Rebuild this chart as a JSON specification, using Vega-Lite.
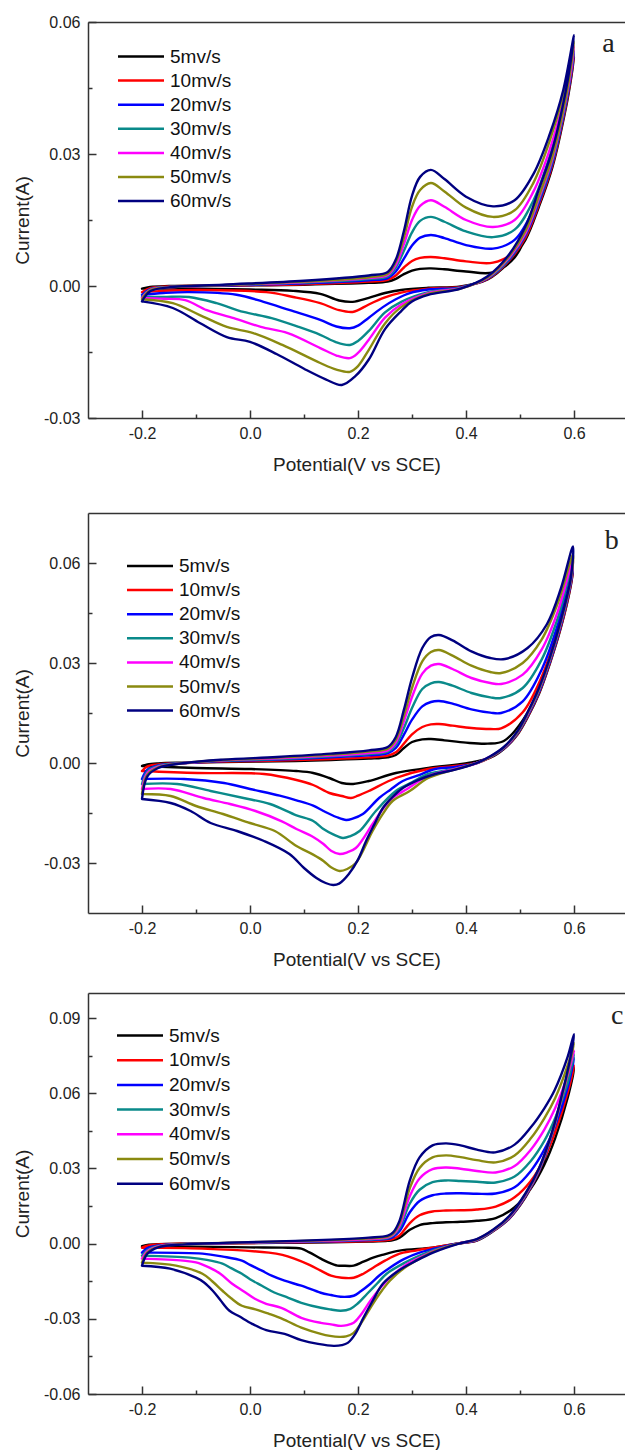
{
"$schema":"https://vega.github.io/schema/vega-lite/v6.json",
"background":"white",
"padding":{"left":13,"top":14,"right":0,"bottom":0},
"config":{
 "font":"Liberation Sans",
 "view":{"stroke":null},
 "axis":{"labelFont":"Liberation Sans","labelFontSize":16,"labelColor":"#222","titleFont":"Liberation Sans","titleFontSize":19,"titleFontWeight":"normal","titleColor":"#222","domainColor":"#333","domainWidth":1.5,"tickColor":"#333","tickWidth":1.5,"grid":false,"labelFlush":false},
 "legend":{"labelFont":"Liberation Sans","labelFontSize":19,"labelColor":"#111","symbolStrokeWidth":2.5,"symbolSize":100,"symbolType":"M-4.6,0H4.6","labelOffset":19.5,"symbolOffset":0,"padding":0,"direction":"vertical"}
},
"resolve":{"scale":{"color":"independent"},"legend":{"color":"independent"}},
"datasets":{
"a":[
{"s":"5mv/s","x":-0.2,"y":-0.0006},{"s":"5mv/s","x":-0.185,"y":-0.0002},{"s":"5mv/s","x":-0.15,"y":0},{"s":"5mv/s","x":-0.05,"y":0.0001},{"s":"5mv/s","x":0.1,"y":0.0003},{"s":"5mv/s","x":0.22,"y":0.0007},{"s":"5mv/s","x":0.255,"y":0.001},{"s":"5mv/s","x":0.27,"y":0.0016},{"s":"5mv/s","x":0.285,"y":0.0027},{"s":"5mv/s","x":0.3,"y":0.0035},{"s":"5mv/s","x":0.315,"y":0.0039},{"s":"5mv/s","x":0.335,"y":0.004},{"s":"5mv/s","x":0.36,"y":0.0038},{"s":"5mv/s","x":0.4,"y":0.0033},{"s":"5mv/s","x":0.45,"y":0.0031},{"s":"5mv/s","x":0.49,"y":0.0065},{"s":"5mv/s","x":0.525,"y":0.0155},{"s":"5mv/s","x":0.555,"y":0.026},{"s":"5mv/s","x":0.58,"y":0.038},{"s":"5mv/s","x":0.6,"y":0.052},
{"s":"5mv/s","x":0.595,"y":0.0475},{"s":"5mv/s","x":0.585,"y":0.0405},{"s":"5mv/s","x":0.56,"y":0.027},{"s":"5mv/s","x":0.535,"y":0.018},{"s":"5mv/s","x":0.51,"y":0.0105},{"s":"5mv/s","x":0.48,"y":0.0055},{"s":"5mv/s","x":0.44,"y":0.0015},{"s":"5mv/s","x":0.39,"y":-0.0001},{"s":"5mv/s","x":0.33,"y":-0.0004},{"s":"5mv/s","x":0.28,"y":-0.0009},{"s":"5mv/s","x":0.25,"y":-0.0016},{"s":"5mv/s","x":0.22,"y":-0.0027},{"s":"5mv/s","x":0.19,"y":-0.0036},{"s":"5mv/s","x":0.165,"y":-0.0033},{"s":"5mv/s","x":0.13,"y":-0.0018},{"s":"5mv/s","x":0.08,"y":-0.0011},{"s":"5mv/s","x":0,"y":-0.0008},{"s":"5mv/s","x":-0.1,"y":-0.0006},{"s":"5mv/s","x":-0.2,"y":-0.0006},
{"s":"10mv/s","x":-0.2,"y":-0.0014},{"s":"10mv/s","x":-0.185,"y":-0.0005},{"s":"10mv/s","x":-0.15,"y":-0.0001},{"s":"10mv/s","x":-0.05,"y":0.0001},{"s":"10mv/s","x":0.1,"y":0.0004},{"s":"10mv/s","x":0.22,"y":0.001},{"s":"10mv/s","x":0.255,"y":0.0014},{"s":"10mv/s","x":0.27,"y":0.0024},{"s":"10mv/s","x":0.285,"y":0.0042},{"s":"10mv/s","x":0.3,"y":0.0057},{"s":"10mv/s","x":0.315,"y":0.0064},{"s":"10mv/s","x":0.335,"y":0.0066},{"s":"10mv/s","x":0.36,"y":0.0063},{"s":"10mv/s","x":0.4,"y":0.0056},{"s":"10mv/s","x":0.45,"y":0.0053},{"s":"10mv/s","x":0.49,"y":0.0078},{"s":"10mv/s","x":0.525,"y":0.016},{"s":"10mv/s","x":0.555,"y":0.0265},{"s":"10mv/s","x":0.58,"y":0.0385},{"s":"10mv/s","x":0.6,"y":0.0525},
{"s":"10mv/s","x":0.595,"y":0.048},{"s":"10mv/s","x":0.585,"y":0.041},{"s":"10mv/s","x":0.56,"y":0.0275},{"s":"10mv/s","x":0.535,"y":0.0185},{"s":"10mv/s","x":0.51,"y":0.011},{"s":"10mv/s","x":0.48,"y":0.0058},{"s":"10mv/s","x":0.44,"y":0.0016},{"s":"10mv/s","x":0.39,"y":-0.0002},{"s":"10mv/s","x":0.33,"y":-0.0006},{"s":"10mv/s","x":0.28,"y":-0.0015},{"s":"10mv/s","x":0.25,"y":-0.0026},{"s":"10mv/s","x":0.22,"y":-0.0042},{"s":"10mv/s","x":0.2,"y":-0.0055},{"s":"10mv/s","x":0.19,"y":-0.0059},{"s":"10mv/s","x":0.165,"y":-0.0055},{"s":"10mv/s","x":0.13,"y":-0.0039},{"s":"10mv/s","x":0.08,"y":-0.0025},{"s":"10mv/s","x":0.03,"y":-0.0014},{"s":"10mv/s","x":-0.093,"y":-0.0009},{"s":"10mv/s","x":-0.16,"y":-0.0011},{"s":"10mv/s","x":-0.2,"y":-0.0014},
{"s":"20mv/s","x":-0.2,"y":-0.002},{"s":"20mv/s","x":-0.185,"y":-0.0007},{"s":"20mv/s","x":-0.15,"y":-0.0002},{"s":"20mv/s","x":-0.05,"y":0.0001},{"s":"20mv/s","x":0.1,"y":0.0006},{"s":"20mv/s","x":0.22,"y":0.0013},{"s":"20mv/s","x":0.255,"y":0.0018},{"s":"20mv/s","x":0.27,"y":0.0033},{"s":"20mv/s","x":0.285,"y":0.0062},{"s":"20mv/s","x":0.3,"y":0.0092},{"s":"20mv/s","x":0.315,"y":0.011},{"s":"20mv/s","x":0.335,"y":0.0116},{"s":"20mv/s","x":0.36,"y":0.0109},{"s":"20mv/s","x":0.4,"y":0.0093},{"s":"20mv/s","x":0.45,"y":0.0085},{"s":"20mv/s","x":0.49,"y":0.0105},{"s":"20mv/s","x":0.525,"y":0.0175},{"s":"20mv/s","x":0.555,"y":0.0275},{"s":"20mv/s","x":0.58,"y":0.0395},{"s":"20mv/s","x":0.6,"y":0.053},
{"s":"20mv/s","x":0.595,"y":0.0485},{"s":"20mv/s","x":0.585,"y":0.0415},{"s":"20mv/s","x":0.56,"y":0.028},{"s":"20mv/s","x":0.535,"y":0.019},{"s":"20mv/s","x":0.51,"y":0.0115},{"s":"20mv/s","x":0.48,"y":0.006},{"s":"20mv/s","x":0.44,"y":0.0017},{"s":"20mv/s","x":0.39,"y":-0.0003},{"s":"20mv/s","x":0.33,"y":-0.0008},{"s":"20mv/s","x":0.296,"y":-0.0016},{"s":"20mv/s","x":0.27,"y":-0.003},{"s":"20mv/s","x":0.246,"y":-0.0048},{"s":"20mv/s","x":0.22,"y":-0.0072},{"s":"20mv/s","x":0.2,"y":-0.009},{"s":"20mv/s","x":0.185,"y":-0.0096},{"s":"20mv/s","x":0.16,"y":-0.0092},{"s":"20mv/s","x":0.13,"y":-0.0077},{"s":"20mv/s","x":0.074,"y":-0.0055},{"s":"20mv/s","x":0.025,"y":-0.0036},{"s":"20mv/s","x":-0.025,"y":-0.002},{"s":"20mv/s","x":-0.113,"y":-0.0014},{"s":"20mv/s","x":-0.16,"y":-0.0016},{"s":"20mv/s","x":-0.2,"y":-0.002},
{"s":"30mv/s","x":-0.2,"y":-0.0025},{"s":"30mv/s","x":-0.185,"y":-0.0008},{"s":"30mv/s","x":-0.15,"y":-0.0002},{"s":"30mv/s","x":-0.05,"y":0.0002},{"s":"30mv/s","x":0.1,"y":0.0008},{"s":"30mv/s","x":0.22,"y":0.0016},{"s":"30mv/s","x":0.255,"y":0.0022},{"s":"30mv/s","x":0.27,"y":0.0042},{"s":"30mv/s","x":0.285,"y":0.008},{"s":"30mv/s","x":0.3,"y":0.0122},{"s":"30mv/s","x":0.315,"y":0.0148},{"s":"30mv/s","x":0.335,"y":0.0157},{"s":"30mv/s","x":0.36,"y":0.0146},{"s":"30mv/s","x":0.4,"y":0.0124},{"s":"30mv/s","x":0.45,"y":0.0111},{"s":"30mv/s","x":0.49,"y":0.0128},{"s":"30mv/s","x":0.525,"y":0.0195},{"s":"30mv/s","x":0.555,"y":0.0295},{"s":"30mv/s","x":0.58,"y":0.041},{"s":"30mv/s","x":0.6,"y":0.0535},
{"s":"30mv/s","x":0.595,"y":0.049},{"s":"30mv/s","x":0.585,"y":0.042},{"s":"30mv/s","x":0.56,"y":0.0285},{"s":"30mv/s","x":0.535,"y":0.0195},{"s":"30mv/s","x":0.51,"y":0.0118},{"s":"30mv/s","x":0.48,"y":0.0062},{"s":"30mv/s","x":0.44,"y":0.0018},{"s":"30mv/s","x":0.39,"y":-0.0004},{"s":"30mv/s","x":0.33,"y":-0.0014},{"s":"30mv/s","x":0.28,"y":-0.0036},{"s":"30mv/s","x":0.25,"y":-0.006},{"s":"30mv/s","x":0.22,"y":-0.0102},{"s":"30mv/s","x":0.2,"y":-0.0125},{"s":"30mv/s","x":0.185,"y":-0.0134},{"s":"30mv/s","x":0.16,"y":-0.0128},{"s":"30mv/s","x":0.13,"y":-0.0111},{"s":"30mv/s","x":0.09,"y":-0.0093},{"s":"30mv/s","x":0.04,"y":-0.0073},{"s":"30mv/s","x":-0.012,"y":-0.0059},{"s":"30mv/s","x":-0.062,"y":-0.0039},{"s":"30mv/s","x":-0.113,"y":-0.0025},{"s":"30mv/s","x":-0.16,"y":-0.0025},{"s":"30mv/s","x":-0.2,"y":-0.0025},
{"s":"40mv/s","x":-0.2,"y":-0.0027},{"s":"40mv/s","x":-0.185,"y":-0.0009},{"s":"40mv/s","x":-0.15,"y":-0.0003},{"s":"40mv/s","x":-0.05,"y":0.0002},{"s":"40mv/s","x":0.1,"y":0.0009},{"s":"40mv/s","x":0.22,"y":0.0018},{"s":"40mv/s","x":0.255,"y":0.0025},{"s":"40mv/s","x":0.27,"y":0.0048},{"s":"40mv/s","x":0.285,"y":0.0095},{"s":"40mv/s","x":0.3,"y":0.015},{"s":"40mv/s","x":0.315,"y":0.0182},{"s":"40mv/s","x":0.335,"y":0.0195},{"s":"40mv/s","x":0.36,"y":0.018},{"s":"40mv/s","x":0.4,"y":0.015},{"s":"40mv/s","x":0.45,"y":0.0134},{"s":"40mv/s","x":0.49,"y":0.015},{"s":"40mv/s","x":0.525,"y":0.0215},{"s":"40mv/s","x":0.555,"y":0.031},{"s":"40mv/s","x":0.58,"y":0.042},{"s":"40mv/s","x":0.6,"y":0.0545},
{"s":"40mv/s","x":0.595,"y":0.0495},{"s":"40mv/s","x":0.585,"y":0.0425},{"s":"40mv/s","x":0.56,"y":0.029},{"s":"40mv/s","x":0.535,"y":0.02},{"s":"40mv/s","x":0.51,"y":0.012},{"s":"40mv/s","x":0.48,"y":0.0065},{"s":"40mv/s","x":0.44,"y":0.0019},{"s":"40mv/s","x":0.39,"y":-0.0005},{"s":"40mv/s","x":0.33,"y":-0.0016},{"s":"40mv/s","x":0.28,"y":-0.0042},{"s":"40mv/s","x":0.25,"y":-0.0072},{"s":"40mv/s","x":0.22,"y":-0.0122},{"s":"40mv/s","x":0.2,"y":-0.0152},{"s":"40mv/s","x":0.185,"y":-0.0164},{"s":"40mv/s","x":0.16,"y":-0.0158},{"s":"40mv/s","x":0.13,"y":-0.0141},{"s":"40mv/s","x":0.07,"y":-0.0107},{"s":"40mv/s","x":0.02,"y":-0.0093},{"s":"40mv/s","x":-0.03,"y":-0.0073},{"s":"40mv/s","x":-0.08,"y":-0.0055},{"s":"40mv/s","x":-0.12,"y":-0.0032},{"s":"40mv/s","x":-0.16,"y":-0.0029},{"s":"40mv/s","x":-0.2,"y":-0.0027},
{"s":"50mv/s","x":-0.2,"y":-0.003},{"s":"50mv/s","x":-0.185,"y":-0.001},{"s":"50mv/s","x":-0.15,"y":-0.0003},{"s":"50mv/s","x":-0.05,"y":0.0002},{"s":"50mv/s","x":0.1,"y":0.001},{"s":"50mv/s","x":0.22,"y":0.002},{"s":"50mv/s","x":0.255,"y":0.0028},{"s":"50mv/s","x":0.27,"y":0.0055},{"s":"50mv/s","x":0.285,"y":0.011},{"s":"50mv/s","x":0.3,"y":0.018},{"s":"50mv/s","x":0.315,"y":0.0218},{"s":"50mv/s","x":0.335,"y":0.0234},{"s":"50mv/s","x":0.36,"y":0.0215},{"s":"50mv/s","x":0.4,"y":0.0178},{"s":"50mv/s","x":0.45,"y":0.0157},{"s":"50mv/s","x":0.49,"y":0.0172},{"s":"50mv/s","x":0.525,"y":0.0235},{"s":"50mv/s","x":0.555,"y":0.033},{"s":"50mv/s","x":0.58,"y":0.0435},{"s":"50mv/s","x":0.6,"y":0.0555},
{"s":"50mv/s","x":0.595,"y":0.0505},{"s":"50mv/s","x":0.585,"y":0.043},{"s":"50mv/s","x":0.56,"y":0.0295},{"s":"50mv/s","x":0.535,"y":0.0205},{"s":"50mv/s","x":0.51,"y":0.0125},{"s":"50mv/s","x":0.48,"y":0.0068},{"s":"50mv/s","x":0.44,"y":0.002},{"s":"50mv/s","x":0.39,"y":-0.0006},{"s":"50mv/s","x":0.33,"y":-0.0018},{"s":"50mv/s","x":0.28,"y":-0.0048},{"s":"50mv/s","x":0.25,"y":-0.0085},{"s":"50mv/s","x":0.22,"y":-0.0145},{"s":"50mv/s","x":0.2,"y":-0.0182},{"s":"50mv/s","x":0.185,"y":-0.0195},{"s":"50mv/s","x":0.16,"y":-0.019},{"s":"50mv/s","x":0.13,"y":-0.0175},{"s":"50mv/s","x":0.06,"y":-0.0134},{"s":"50mv/s","x":0.006,"y":-0.0107},{"s":"50mv/s","x":-0.043,"y":-0.0093},{"s":"50mv/s","x":-0.093,"y":-0.0066},{"s":"50mv/s","x":-0.143,"y":-0.0039},{"s":"50mv/s","x":-0.2,"y":-0.003},
{"s":"60mv/s","x":-0.2,"y":-0.0035},{"s":"60mv/s","x":-0.185,"y":-0.0012},{"s":"60mv/s","x":-0.15,"y":-0.0003},{"s":"60mv/s","x":-0.05,"y":0.0003},{"s":"60mv/s","x":0.1,"y":0.0012},{"s":"60mv/s","x":0.22,"y":0.0024},{"s":"60mv/s","x":0.255,"y":0.0032},{"s":"60mv/s","x":0.27,"y":0.006},{"s":"60mv/s","x":0.285,"y":0.0125},{"s":"60mv/s","x":0.3,"y":0.0205},{"s":"60mv/s","x":0.315,"y":0.0248},{"s":"60mv/s","x":0.335,"y":0.0264},{"s":"60mv/s","x":0.36,"y":0.0243},{"s":"60mv/s","x":0.4,"y":0.0203},{"s":"60mv/s","x":0.45,"y":0.0181},{"s":"60mv/s","x":0.49,"y":0.0195},{"s":"60mv/s","x":0.525,"y":0.0255},{"s":"60mv/s","x":0.555,"y":0.0345},{"s":"60mv/s","x":0.58,"y":0.0445},{"s":"60mv/s","x":0.6,"y":0.057},
{"s":"60mv/s","x":0.595,"y":0.052},{"s":"60mv/s","x":0.585,"y":0.0445},{"s":"60mv/s","x":0.56,"y":0.031},{"s":"60mv/s","x":0.535,"y":0.022},{"s":"60mv/s","x":0.51,"y":0.0135},{"s":"60mv/s","x":0.48,"y":0.0072},{"s":"60mv/s","x":0.44,"y":0.0022},{"s":"60mv/s","x":0.39,"y":-0.0006},{"s":"60mv/s","x":0.33,"y":-0.002},{"s":"60mv/s","x":0.3,"y":-0.0035},{"s":"60mv/s","x":0.28,"y":-0.0057},{"s":"60mv/s","x":0.25,"y":-0.0098},{"s":"60mv/s","x":0.22,"y":-0.0167},{"s":"60mv/s","x":0.195,"y":-0.0205},{"s":"60mv/s","x":0.17,"y":-0.0225},{"s":"60mv/s","x":0.14,"y":-0.0212},{"s":"60mv/s","x":0.1,"y":-0.0188},{"s":"60mv/s","x":0.05,"y":-0.0155},{"s":"60mv/s","x":0,"y":-0.0127},{"s":"60mv/s","x":-0.043,"y":-0.0116},{"s":"60mv/s","x":-0.093,"y":-0.0084},{"s":"60mv/s","x":-0.143,"y":-0.005},{"s":"60mv/s","x":-0.2,"y":-0.0035}
],
"b":[
{"s":"5mv/s","x":-0.2,"y":-0.0009},{"s":"5mv/s","x":-0.19,"y":-0.0004},{"s":"5mv/s","x":-0.17,"y":-0.0001},{"s":"5mv/s","x":-0.12,"y":0.0001},{"s":"5mv/s","x":-0.05,"y":0.0003},{"s":"5mv/s","x":0.05,"y":0.0005},{"s":"5mv/s","x":0.15,"y":0.0009},{"s":"5mv/s","x":0.22,"y":0.0013},{"s":"5mv/s","x":0.255,"y":0.0017},{"s":"5mv/s","x":0.27,"y":0.0024},{"s":"5mv/s","x":0.285,"y":0.0045},{"s":"5mv/s","x":0.3,"y":0.0063},{"s":"5mv/s","x":0.319,"y":0.0071},{"s":"5mv/s","x":0.335,"y":0.0072},{"s":"5mv/s","x":0.36,"y":0.0068},{"s":"5mv/s","x":0.4,"y":0.0061},{"s":"5mv/s","x":0.44,"y":0.0058},{"s":"5mv/s","x":0.47,"y":0.0066},{"s":"5mv/s","x":0.505,"y":0.0128},{"s":"5mv/s","x":0.54,"y":0.0242},{"s":"5mv/s","x":0.57,"y":0.0395},{"s":"5mv/s","x":0.598,"y":0.058},
{"s":"5mv/s","x":0.594,"y":0.0532},{"s":"5mv/s","x":0.575,"y":0.0402},{"s":"5mv/s","x":0.555,"y":0.0297},{"s":"5mv/s","x":0.535,"y":0.0207},{"s":"5mv/s","x":0.515,"y":0.014},{"s":"5mv/s","x":0.495,"y":0.0085},{"s":"5mv/s","x":0.47,"y":0.0042},{"s":"5mv/s","x":0.445,"y":0.0016},{"s":"5mv/s","x":0.404,"y":0},{"s":"5mv/s","x":0.33,"y":-0.0015},{"s":"5mv/s","x":0.27,"y":-0.003},{"s":"5mv/s","x":0.22,"y":-0.0054},{"s":"5mv/s","x":0.191,"y":-0.0063},{"s":"5mv/s","x":0.17,"y":-0.006},{"s":"5mv/s","x":0.147,"y":-0.0045},{"s":"5mv/s","x":0.117,"y":-0.003},{"s":"5mv/s","x":0.086,"y":-0.0024},{"s":"5mv/s","x":0,"y":-0.0018},{"s":"5mv/s","x":-0.1,"y":-0.0015},{"s":"5mv/s","x":-0.2,"y":-0.0009},
{"s":"10mv/s","x":-0.2,"y":-0.0024},{"s":"10mv/s","x":-0.19,"y":-0.001},{"s":"10mv/s","x":-0.17,"y":-0.0004},{"s":"10mv/s","x":-0.12,"y":0},{"s":"10mv/s","x":-0.05,"y":0.0004},{"s":"10mv/s","x":0.05,"y":0.0007},{"s":"10mv/s","x":0.15,"y":0.0012},{"s":"10mv/s","x":0.22,"y":0.0017},{"s":"10mv/s","x":0.255,"y":0.0022},{"s":"10mv/s","x":0.27,"y":0.0032},{"s":"10mv/s","x":0.285,"y":0.0058},{"s":"10mv/s","x":0.3,"y":0.0086},{"s":"10mv/s","x":0.319,"y":0.0108},{"s":"10mv/s","x":0.335,"y":0.0116},{"s":"10mv/s","x":0.35,"y":0.0117},{"s":"10mv/s","x":0.375,"y":0.0112},{"s":"10mv/s","x":0.41,"y":0.0105},{"s":"10mv/s","x":0.445,"y":0.0102},{"s":"10mv/s","x":0.465,"y":0.0104},{"s":"10mv/s","x":0.505,"y":0.0152},{"s":"10mv/s","x":0.54,"y":0.0258},{"s":"10mv/s","x":0.57,"y":0.04},{"s":"10mv/s","x":0.598,"y":0.058},
{"s":"10mv/s","x":0.594,"y":0.0535},{"s":"10mv/s","x":0.575,"y":0.0405},{"s":"10mv/s","x":0.555,"y":0.03},{"s":"10mv/s","x":0.535,"y":0.021},{"s":"10mv/s","x":0.515,"y":0.0142},{"s":"10mv/s","x":0.495,"y":0.0086},{"s":"10mv/s","x":0.47,"y":0.0043},{"s":"10mv/s","x":0.445,"y":0.0017},{"s":"10mv/s","x":0.42,"y":0},{"s":"10mv/s","x":0.38,"y":-0.0009},{"s":"10mv/s","x":0.33,"y":-0.0018},{"s":"10mv/s","x":0.27,"y":-0.0045},{"s":"10mv/s","x":0.22,"y":-0.0084},{"s":"10mv/s","x":0.2,"y":-0.0098},{"s":"10mv/s","x":0.187,"y":-0.0105},{"s":"10mv/s","x":0.17,"y":-0.0099},{"s":"10mv/s","x":0.147,"y":-0.009},{"s":"10mv/s","x":0.117,"y":-0.0066},{"s":"10mv/s","x":0.086,"y":-0.0051},{"s":"10mv/s","x":0.026,"y":-0.0033},{"s":"10mv/s","x":-0.097,"y":-0.003},{"s":"10mv/s","x":-0.2,"y":-0.0024},
{"s":"20mv/s","x":-0.2,"y":-0.0048},{"s":"20mv/s","x":-0.19,"y":-0.002},{"s":"20mv/s","x":-0.17,"y":-0.0007},{"s":"20mv/s","x":-0.12,"y":0},{"s":"20mv/s","x":-0.05,"y":0.0006},{"s":"20mv/s","x":0.05,"y":0.001},{"s":"20mv/s","x":0.15,"y":0.0017},{"s":"20mv/s","x":0.22,"y":0.0023},{"s":"20mv/s","x":0.255,"y":0.0029},{"s":"20mv/s","x":0.27,"y":0.0045},{"s":"20mv/s","x":0.285,"y":0.0085},{"s":"20mv/s","x":0.3,"y":0.013},{"s":"20mv/s","x":0.319,"y":0.017},{"s":"20mv/s","x":0.335,"y":0.0183},{"s":"20mv/s","x":0.35,"y":0.0186},{"s":"20mv/s","x":0.375,"y":0.0178},{"s":"20mv/s","x":0.41,"y":0.0161},{"s":"20mv/s","x":0.445,"y":0.0151},{"s":"20mv/s","x":0.465,"y":0.015},{"s":"20mv/s","x":0.505,"y":0.0185},{"s":"20mv/s","x":0.54,"y":0.028},{"s":"20mv/s","x":0.57,"y":0.0415},{"s":"20mv/s","x":0.598,"y":0.059},
{"s":"20mv/s","x":0.594,"y":0.054},{"s":"20mv/s","x":0.575,"y":0.041},{"s":"20mv/s","x":0.555,"y":0.0303},{"s":"20mv/s","x":0.535,"y":0.0213},{"s":"20mv/s","x":0.515,"y":0.0145},{"s":"20mv/s","x":0.495,"y":0.0088},{"s":"20mv/s","x":0.47,"y":0.0044},{"s":"20mv/s","x":0.445,"y":0.0018},{"s":"20mv/s","x":0.42,"y":0},{"s":"20mv/s","x":0.38,"y":-0.0012},{"s":"20mv/s","x":0.343,"y":-0.0018},{"s":"20mv/s","x":0.31,"y":-0.0038},{"s":"20mv/s","x":0.283,"y":-0.0054},{"s":"20mv/s","x":0.26,"y":-0.008},{"s":"20mv/s","x":0.239,"y":-0.0105},{"s":"20mv/s","x":0.209,"y":-0.0153},{"s":"20mv/s","x":0.19,"y":-0.0167},{"s":"20mv/s","x":0.178,"y":-0.0171},{"s":"20mv/s","x":0.16,"y":-0.0162},{"s":"20mv/s","x":0.136,"y":-0.0144},{"s":"20mv/s","x":0.117,"y":-0.0128},{"s":"20mv/s","x":0.086,"y":-0.0112},{"s":"20mv/s","x":0.055,"y":-0.0098},{"s":"20mv/s","x":0,"y":-0.0078},{"s":"20mv/s","x":-0.048,"y":-0.006},{"s":"20mv/s","x":-0.122,"y":-0.0048},{"s":"20mv/s","x":-0.2,"y":-0.0048},
{"s":"30mv/s","x":-0.2,"y":-0.0063},{"s":"30mv/s","x":-0.19,"y":-0.0025},{"s":"30mv/s","x":-0.17,"y":-0.0009},{"s":"30mv/s","x":-0.12,"y":0},{"s":"30mv/s","x":-0.05,"y":0.0007},{"s":"30mv/s","x":0.05,"y":0.0012},{"s":"30mv/s","x":0.15,"y":0.002},{"s":"30mv/s","x":0.22,"y":0.0027},{"s":"30mv/s","x":0.255,"y":0.0034},{"s":"30mv/s","x":0.27,"y":0.0055},{"s":"30mv/s","x":0.285,"y":0.0105},{"s":"30mv/s","x":0.3,"y":0.0165},{"s":"30mv/s","x":0.319,"y":0.0222},{"s":"30mv/s","x":0.335,"y":0.0239},{"s":"30mv/s","x":0.35,"y":0.0243},{"s":"30mv/s","x":0.375,"y":0.0232},{"s":"30mv/s","x":0.41,"y":0.021},{"s":"30mv/s","x":0.445,"y":0.0197},{"s":"30mv/s","x":0.465,"y":0.0195},{"s":"30mv/s","x":0.505,"y":0.0225},{"s":"30mv/s","x":0.54,"y":0.031},{"s":"30mv/s","x":0.57,"y":0.0435},{"s":"30mv/s","x":0.598,"y":0.06},
{"s":"30mv/s","x":0.594,"y":0.0545},{"s":"30mv/s","x":0.575,"y":0.0415},{"s":"30mv/s","x":0.555,"y":0.0307},{"s":"30mv/s","x":0.535,"y":0.0217},{"s":"30mv/s","x":0.515,"y":0.0148},{"s":"30mv/s","x":0.495,"y":0.009},{"s":"30mv/s","x":0.47,"y":0.0045},{"s":"30mv/s","x":0.445,"y":0.0018},{"s":"30mv/s","x":0.42,"y":0},{"s":"30mv/s","x":0.38,"y":-0.0017},{"s":"30mv/s","x":0.33,"y":-0.0033},{"s":"30mv/s","x":0.3,"y":-0.0058},{"s":"30mv/s","x":0.27,"y":-0.0084},{"s":"30mv/s","x":0.233,"y":-0.0144},{"s":"30mv/s","x":0.203,"y":-0.0204},{"s":"30mv/s","x":0.185,"y":-0.022},{"s":"30mv/s","x":0.172,"y":-0.0225},{"s":"30mv/s","x":0.155,"y":-0.0215},{"s":"30mv/s","x":0.136,"y":-0.0198},{"s":"30mv/s","x":0.117,"y":-0.0174},{"s":"30mv/s","x":0.086,"y":-0.0157},{"s":"30mv/s","x":0.037,"y":-0.0123},{"s":"30mv/s","x":-0.012,"y":-0.0105},{"s":"30mv/s","x":-0.073,"y":-0.0084},{"s":"30mv/s","x":-0.135,"y":-0.0063},{"s":"30mv/s","x":-0.2,"y":-0.0063},
{"s":"40mv/s","x":-0.2,"y":-0.0078},{"s":"40mv/s","x":-0.19,"y":-0.003},{"s":"40mv/s","x":-0.17,"y":-0.0011},{"s":"40mv/s","x":-0.12,"y":0},{"s":"40mv/s","x":-0.05,"y":0.0008},{"s":"40mv/s","x":0.05,"y":0.0014},{"s":"40mv/s","x":0.15,"y":0.0022},{"s":"40mv/s","x":0.22,"y":0.003},{"s":"40mv/s","x":0.255,"y":0.0038},{"s":"40mv/s","x":0.27,"y":0.0062},{"s":"40mv/s","x":0.285,"y":0.0125},{"s":"40mv/s","x":0.3,"y":0.0198},{"s":"40mv/s","x":0.319,"y":0.0268},{"s":"40mv/s","x":0.335,"y":0.0292},{"s":"40mv/s","x":0.35,"y":0.0297},{"s":"40mv/s","x":0.375,"y":0.0282},{"s":"40mv/s","x":0.41,"y":0.0255},{"s":"40mv/s","x":0.445,"y":0.024},{"s":"40mv/s","x":0.465,"y":0.0237},{"s":"40mv/s","x":0.505,"y":0.0265},{"s":"40mv/s","x":0.54,"y":0.034},{"s":"40mv/s","x":0.57,"y":0.0455},{"s":"40mv/s","x":0.598,"y":0.061},
{"s":"40mv/s","x":0.594,"y":0.0548},{"s":"40mv/s","x":0.575,"y":0.0418},{"s":"40mv/s","x":0.555,"y":0.031},{"s":"40mv/s","x":0.535,"y":0.022},{"s":"40mv/s","x":0.515,"y":0.015},{"s":"40mv/s","x":0.495,"y":0.0092},{"s":"40mv/s","x":0.47,"y":0.0046},{"s":"40mv/s","x":0.445,"y":0.0019},{"s":"40mv/s","x":0.42,"y":0},{"s":"40mv/s","x":0.38,"y":-0.0018},{"s":"40mv/s","x":0.33,"y":-0.0039},{"s":"40mv/s","x":0.29,"y":-0.0079},{"s":"40mv/s","x":0.264,"y":-0.0105},{"s":"40mv/s","x":0.245,"y":-0.014},{"s":"40mv/s","x":0.227,"y":-0.0183},{"s":"40mv/s","x":0.196,"y":-0.0255},{"s":"40mv/s","x":0.18,"y":-0.0268},{"s":"40mv/s","x":0.166,"y":-0.0273},{"s":"40mv/s","x":0.15,"y":-0.0263},{"s":"40mv/s","x":0.136,"y":-0.0243},{"s":"40mv/s","x":0.117,"y":-0.0222},{"s":"40mv/s","x":0.086,"y":-0.0198},{"s":"40mv/s","x":0.059,"y":-0.0175},{"s":"40mv/s","x":0.01,"y":-0.0144},{"s":"40mv/s","x":-0.037,"y":-0.0123},{"s":"40mv/s","x":-0.086,"y":-0.0105},{"s":"40mv/s","x":-0.147,"y":-0.0078},{"s":"40mv/s","x":-0.2,"y":-0.0078},
{"s":"50mv/s","x":-0.2,"y":-0.0093},{"s":"50mv/s","x":-0.19,"y":-0.0035},{"s":"50mv/s","x":-0.17,"y":-0.0013},{"s":"50mv/s","x":-0.12,"y":0},{"s":"50mv/s","x":-0.05,"y":0.0009},{"s":"50mv/s","x":0.05,"y":0.0016},{"s":"50mv/s","x":0.15,"y":0.0025},{"s":"50mv/s","x":0.22,"y":0.0034},{"s":"50mv/s","x":0.255,"y":0.0043},{"s":"50mv/s","x":0.27,"y":0.007},{"s":"50mv/s","x":0.285,"y":0.0142},{"s":"50mv/s","x":0.3,"y":0.0225},{"s":"50mv/s","x":0.319,"y":0.0305},{"s":"50mv/s","x":0.335,"y":0.0333},{"s":"50mv/s","x":0.35,"y":0.0339},{"s":"50mv/s","x":0.375,"y":0.0322},{"s":"50mv/s","x":0.41,"y":0.0292},{"s":"50mv/s","x":0.445,"y":0.0273},{"s":"50mv/s","x":0.465,"y":0.027},{"s":"50mv/s","x":0.505,"y":0.03},{"s":"50mv/s","x":0.54,"y":0.037},{"s":"50mv/s","x":0.57,"y":0.048},{"s":"50mv/s","x":0.598,"y":0.0625},
{"s":"50mv/s","x":0.594,"y":0.055},{"s":"50mv/s","x":0.575,"y":0.042},{"s":"50mv/s","x":0.555,"y":0.0312},{"s":"50mv/s","x":0.535,"y":0.0222},{"s":"50mv/s","x":0.515,"y":0.0152},{"s":"50mv/s","x":0.495,"y":0.0093},{"s":"50mv/s","x":0.47,"y":0.0047},{"s":"50mv/s","x":0.445,"y":0.0019},{"s":"50mv/s","x":0.42,"y":0},{"s":"50mv/s","x":0.38,"y":-0.0019},{"s":"50mv/s","x":0.33,"y":-0.0045},{"s":"50mv/s","x":0.295,"y":-0.0085},{"s":"50mv/s","x":0.264,"y":-0.0114},{"s":"50mv/s","x":0.245,"y":-0.0155},{"s":"50mv/s","x":0.227,"y":-0.0204},{"s":"50mv/s","x":0.196,"y":-0.03},{"s":"50mv/s","x":0.18,"y":-0.0318},{"s":"50mv/s","x":0.166,"y":-0.0324},{"s":"50mv/s","x":0.15,"y":-0.0313},{"s":"50mv/s","x":0.136,"y":-0.0294},{"s":"50mv/s","x":0.117,"y":-0.0275},{"s":"50mv/s","x":0.086,"y":-0.0249},{"s":"50mv/s","x":0.046,"y":-0.0204},{"s":"50mv/s","x":0,"y":-0.018},{"s":"50mv/s","x":-0.05,"y":-0.0153},{"s":"50mv/s","x":-0.1,"y":-0.0129},{"s":"50mv/s","x":-0.147,"y":-0.0099},{"s":"50mv/s","x":-0.2,"y":-0.0093},
{"s":"60mv/s","x":-0.2,"y":-0.0108},{"s":"60mv/s","x":-0.19,"y":-0.004},{"s":"60mv/s","x":-0.17,"y":-0.0015},{"s":"60mv/s","x":-0.12,"y":0},{"s":"60mv/s","x":-0.05,"y":0.001},{"s":"60mv/s","x":0.05,"y":0.0018},{"s":"60mv/s","x":0.15,"y":0.0028},{"s":"60mv/s","x":0.22,"y":0.0038},{"s":"60mv/s","x":0.255,"y":0.0048},{"s":"60mv/s","x":0.27,"y":0.0078},{"s":"60mv/s","x":0.285,"y":0.016},{"s":"60mv/s","x":0.3,"y":0.0255},{"s":"60mv/s","x":0.319,"y":0.0345},{"s":"60mv/s","x":0.335,"y":0.0378},{"s":"60mv/s","x":0.35,"y":0.0384},{"s":"60mv/s","x":0.375,"y":0.0368},{"s":"60mv/s","x":0.41,"y":0.0335},{"s":"60mv/s","x":0.445,"y":0.0315},{"s":"60mv/s","x":0.472,"y":0.0312},{"s":"60mv/s","x":0.514,"y":0.0345},{"s":"60mv/s","x":0.55,"y":0.0417},{"s":"60mv/s","x":0.576,"y":0.0525},{"s":"60mv/s","x":0.598,"y":0.065},
{"s":"60mv/s","x":0.594,"y":0.0555},{"s":"60mv/s","x":0.575,"y":0.0425},{"s":"60mv/s","x":0.555,"y":0.0315},{"s":"60mv/s","x":0.535,"y":0.0225},{"s":"60mv/s","x":0.515,"y":0.0155},{"s":"60mv/s","x":0.495,"y":0.0095},{"s":"60mv/s","x":0.47,"y":0.0048},{"s":"60mv/s","x":0.445,"y":0.002},{"s":"60mv/s","x":0.42,"y":0},{"s":"60mv/s","x":0.38,"y":-0.002},{"s":"60mv/s","x":0.343,"y":-0.0033},{"s":"60mv/s","x":0.31,"y":-0.0052},{"s":"60mv/s","x":0.283,"y":-0.0075},{"s":"60mv/s","x":0.265,"y":-0.01},{"s":"60mv/s","x":0.246,"y":-0.0135},{"s":"60mv/s","x":0.23,"y":-0.0185},{"s":"60mv/s","x":0.215,"y":-0.0234},{"s":"60mv/s","x":0.2,"y":-0.029},{"s":"60mv/s","x":0.183,"y":-0.0333},{"s":"60mv/s","x":0.165,"y":-0.0362},{"s":"60mv/s","x":0.154,"y":-0.0366},{"s":"60mv/s","x":0.14,"y":-0.036},{"s":"60mv/s","x":0.123,"y":-0.0345},{"s":"60mv/s","x":0.1,"y":-0.0315},{"s":"60mv/s","x":0.073,"y":-0.0273},{"s":"60mv/s","x":0.026,"y":-0.0234},{"s":"60mv/s","x":-0.024,"y":-0.0204},{"s":"60mv/s","x":-0.073,"y":-0.018},{"s":"60mv/s","x":-0.11,"y":-0.0144},{"s":"60mv/s","x":-0.147,"y":-0.012},{"s":"60mv/s","x":-0.2,"y":-0.0108}
],
"c":[
{"s":"5mv/s","x":-0.2,"y":-0.001},{"s":"5mv/s","x":-0.19,"y":-0.0005},{"s":"5mv/s","x":-0.17,"y":-0.0002},{"s":"5mv/s","x":-0.12,"y":0},{"s":"5mv/s","x":-0.05,"y":0.0001},{"s":"5mv/s","x":0.05,"y":0.0003},{"s":"5mv/s","x":0.15,"y":0.0005},{"s":"5mv/s","x":0.22,"y":0.0008},{"s":"5mv/s","x":0.255,"y":0.0011},{"s":"5mv/s","x":0.265,"y":0.0014},{"s":"5mv/s","x":0.277,"y":0.0024},{"s":"5mv/s","x":0.296,"y":0.0055},{"s":"5mv/s","x":0.314,"y":0.0074},{"s":"5mv/s","x":0.338,"y":0.0082},{"s":"5mv/s","x":0.363,"y":0.0085},{"s":"5mv/s","x":0.39,"y":0.0087},{"s":"5mv/s","x":0.42,"y":0.0091},{"s":"5mv/s","x":0.455,"y":0.0102},{"s":"5mv/s","x":0.49,"y":0.0145},{"s":"5mv/s","x":0.52,"y":0.022},{"s":"5mv/s","x":0.545,"y":0.0315},{"s":"5mv/s","x":0.565,"y":0.042},{"s":"5mv/s","x":0.588,"y":0.058},{"s":"5mv/s","x":0.6,"y":0.07},
{"s":"5mv/s","x":0.595,"y":0.0675},{"s":"5mv/s","x":0.58,"y":0.058},{"s":"5mv/s","x":0.56,"y":0.043},{"s":"5mv/s","x":0.535,"y":0.0285},{"s":"5mv/s","x":0.51,"y":0.0185},{"s":"5mv/s","x":0.48,"y":0.01},{"s":"5mv/s","x":0.45,"y":0.0049},{"s":"5mv/s","x":0.42,"y":0.0012},{"s":"5mv/s","x":0.383,"y":0},{"s":"5mv/s","x":0.338,"y":-0.0016},{"s":"5mv/s","x":0.277,"y":-0.0028},{"s":"5mv/s","x":0.245,"y":-0.0045},{"s":"5mv/s","x":0.228,"y":-0.0056},{"s":"5mv/s","x":0.21,"y":-0.0072},{"s":"5mv/s","x":0.192,"y":-0.0088},{"s":"5mv/s","x":0.17,"y":-0.0088},{"s":"5mv/s","x":0.162,"y":-0.0088},{"s":"5mv/s","x":0.145,"y":-0.0075},{"s":"5mv/s","x":0.131,"y":-0.006},{"s":"5mv/s","x":0.11,"y":-0.0035},{"s":"5mv/s","x":0.095,"y":-0.002},{"s":"5mv/s","x":0.06,"y":-0.0016},{"s":"5mv/s","x":0,"y":-0.0015},{"s":"5mv/s","x":-0.1,"y":-0.0012},{"s":"5mv/s","x":-0.2,"y":-0.001},
{"s":"10mv/s","x":-0.2,"y":-0.0016},{"s":"10mv/s","x":-0.19,"y":-0.0008},{"s":"10mv/s","x":-0.17,"y":-0.0003},{"s":"10mv/s","x":-0.12,"y":0},{"s":"10mv/s","x":-0.05,"y":0.0001},{"s":"10mv/s","x":0.05,"y":0.0004},{"s":"10mv/s","x":0.15,"y":0.0007},{"s":"10mv/s","x":0.22,"y":0.001},{"s":"10mv/s","x":0.255,"y":0.0014},{"s":"10mv/s","x":0.265,"y":0.0019},{"s":"10mv/s","x":0.277,"y":0.0033},{"s":"10mv/s","x":0.296,"y":0.0082},{"s":"10mv/s","x":0.314,"y":0.0113},{"s":"10mv/s","x":0.338,"y":0.0128},{"s":"10mv/s","x":0.363,"y":0.0132},{"s":"10mv/s","x":0.39,"y":0.0133},{"s":"10mv/s","x":0.42,"y":0.0136},{"s":"10mv/s","x":0.455,"y":0.0148},{"s":"10mv/s","x":0.49,"y":0.0185},{"s":"10mv/s","x":0.52,"y":0.025},{"s":"10mv/s","x":0.545,"y":0.034},{"s":"10mv/s","x":0.565,"y":0.0445},{"s":"10mv/s","x":0.588,"y":0.06},{"s":"10mv/s","x":0.6,"y":0.071},
{"s":"10mv/s","x":0.595,"y":0.068},{"s":"10mv/s","x":0.58,"y":0.0585},{"s":"10mv/s","x":0.56,"y":0.0435},{"s":"10mv/s","x":0.535,"y":0.0288},{"s":"10mv/s","x":0.51,"y":0.0188},{"s":"10mv/s","x":0.48,"y":0.0101},{"s":"10mv/s","x":0.45,"y":0.005},{"s":"10mv/s","x":0.42,"y":0.0013},{"s":"10mv/s","x":0.383,"y":0},{"s":"10mv/s","x":0.338,"y":-0.0016},{"s":"10mv/s","x":0.3,"y":-0.003},{"s":"10mv/s","x":0.277,"y":-0.004},{"s":"10mv/s","x":0.25,"y":-0.0068},{"s":"10mv/s","x":0.228,"y":-0.0096},{"s":"10mv/s","x":0.21,"y":-0.012},{"s":"10mv/s","x":0.192,"y":-0.0136},{"s":"10mv/s","x":0.17,"y":-0.0136},{"s":"10mv/s","x":0.15,"y":-0.0128},{"s":"10mv/s","x":0.131,"y":-0.0108},{"s":"10mv/s","x":0.11,"y":-0.0085},{"s":"10mv/s","x":0.082,"y":-0.006},{"s":"10mv/s","x":0.06,"y":-0.0045},{"s":"10mv/s","x":0.035,"y":-0.0036},{"s":"10mv/s","x":-0.088,"y":-0.002},{"s":"10mv/s","x":-0.2,"y":-0.0016},
{"s":"20mv/s","x":-0.2,"y":-0.0036},{"s":"20mv/s","x":-0.19,"y":-0.0018},{"s":"20mv/s","x":-0.17,"y":-0.0007},{"s":"20mv/s","x":-0.12,"y":-0.0001},{"s":"20mv/s","x":-0.05,"y":0.0002},{"s":"20mv/s","x":0.05,"y":0.0005},{"s":"20mv/s","x":0.15,"y":0.0009},{"s":"20mv/s","x":0.22,"y":0.0014},{"s":"20mv/s","x":0.255,"y":0.0019},{"s":"20mv/s","x":0.265,"y":0.0027},{"s":"20mv/s","x":0.277,"y":0.005},{"s":"20mv/s","x":0.296,"y":0.0125},{"s":"20mv/s","x":0.314,"y":0.017},{"s":"20mv/s","x":0.338,"y":0.0193},{"s":"20mv/s","x":0.363,"y":0.02},{"s":"20mv/s","x":0.39,"y":0.0201},{"s":"20mv/s","x":0.42,"y":0.0199},{"s":"20mv/s","x":0.455,"y":0.02},{"s":"20mv/s","x":0.49,"y":0.0225},{"s":"20mv/s","x":0.52,"y":0.029},{"s":"20mv/s","x":0.545,"y":0.0375},{"s":"20mv/s","x":0.565,"y":0.047},{"s":"20mv/s","x":0.588,"y":0.062},{"s":"20mv/s","x":0.6,"y":0.074},
{"s":"20mv/s","x":0.595,"y":0.0705},{"s":"20mv/s","x":0.58,"y":0.0595},{"s":"20mv/s","x":0.56,"y":0.044},{"s":"20mv/s","x":0.535,"y":0.029},{"s":"20mv/s","x":0.51,"y":0.019},{"s":"20mv/s","x":0.48,"y":0.0102},{"s":"20mv/s","x":0.45,"y":0.0051},{"s":"20mv/s","x":0.42,"y":0.0014},{"s":"20mv/s","x":0.383,"y":0},{"s":"20mv/s","x":0.314,"y":-0.0036},{"s":"20mv/s","x":0.285,"y":-0.0062},{"s":"20mv/s","x":0.259,"y":-0.0096},{"s":"20mv/s","x":0.24,"y":-0.0126},{"s":"20mv/s","x":0.223,"y":-0.016},{"s":"20mv/s","x":0.205,"y":-0.019},{"s":"20mv/s","x":0.192,"y":-0.0208},{"s":"20mv/s","x":0.168,"y":-0.0212},{"s":"20mv/s","x":0.15,"y":-0.0205},{"s":"20mv/s","x":0.131,"y":-0.0196},{"s":"20mv/s","x":0.095,"y":-0.0168},{"s":"20mv/s","x":0.064,"y":-0.0148},{"s":"20mv/s","x":0.04,"y":-0.0128},{"s":"20mv/s","x":0.022,"y":-0.0108},{"s":"20mv/s","x":0,"y":-0.0085},{"s":"20mv/s","x":-0.015,"y":-0.0068},{"s":"20mv/s","x":-0.05,"y":-0.0052},{"s":"20mv/s","x":-0.088,"y":-0.004},{"s":"20mv/s","x":-0.2,"y":-0.0036},
{"s":"30mv/s","x":-0.2,"y":-0.0048},{"s":"30mv/s","x":-0.19,"y":-0.0025},{"s":"30mv/s","x":-0.17,"y":-0.0009},{"s":"30mv/s","x":-0.12,"y":-0.0001},{"s":"30mv/s","x":-0.05,"y":0.0002},{"s":"30mv/s","x":0.05,"y":0.0006},{"s":"30mv/s","x":0.15,"y":0.0011},{"s":"30mv/s","x":0.22,"y":0.0016},{"s":"30mv/s","x":0.255,"y":0.0022},{"s":"30mv/s","x":0.265,"y":0.0032},{"s":"30mv/s","x":0.277,"y":0.0062},{"s":"30mv/s","x":0.296,"y":0.016},{"s":"30mv/s","x":0.314,"y":0.0215},{"s":"30mv/s","x":0.338,"y":0.0245},{"s":"30mv/s","x":0.363,"y":0.0252},{"s":"30mv/s","x":0.39,"y":0.025},{"s":"30mv/s","x":0.42,"y":0.0247},{"s":"30mv/s","x":0.455,"y":0.0244},{"s":"30mv/s","x":0.49,"y":0.0268},{"s":"30mv/s","x":0.52,"y":0.033},{"s":"30mv/s","x":0.545,"y":0.041},{"s":"30mv/s","x":0.565,"y":0.05},{"s":"30mv/s","x":0.588,"y":0.064},{"s":"30mv/s","x":0.6,"y":0.0755},
{"s":"30mv/s","x":0.595,"y":0.0715},{"s":"30mv/s","x":0.58,"y":0.06},{"s":"30mv/s","x":0.56,"y":0.0442},{"s":"30mv/s","x":0.535,"y":0.0292},{"s":"30mv/s","x":0.51,"y":0.0192},{"s":"30mv/s","x":0.48,"y":0.0104},{"s":"30mv/s","x":0.45,"y":0.0052},{"s":"30mv/s","x":0.42,"y":0.0015},{"s":"30mv/s","x":0.385,"y":0},{"s":"30mv/s","x":0.34,"y":-0.0026},{"s":"30mv/s","x":0.314,"y":-0.0048},{"s":"30mv/s","x":0.285,"y":-0.0078},{"s":"30mv/s","x":0.253,"y":-0.012},{"s":"30mv/s","x":0.235,"y":-0.016},{"s":"30mv/s","x":0.217,"y":-0.02},{"s":"30mv/s","x":0.2,"y":-0.0238},{"s":"30mv/s","x":0.186,"y":-0.026},{"s":"30mv/s","x":0.168,"y":-0.0268},{"s":"30mv/s","x":0.15,"y":-0.0263},{"s":"30mv/s","x":0.131,"y":-0.0256},{"s":"30mv/s","x":0.095,"y":-0.0236},{"s":"30mv/s","x":0.071,"y":-0.0216},{"s":"30mv/s","x":0.045,"y":-0.0195},{"s":"30mv/s","x":0.022,"y":-0.0168},{"s":"30mv/s","x":0,"y":-0.0142},{"s":"30mv/s","x":-0.015,"y":-0.012},{"s":"30mv/s","x":-0.035,"y":-0.0098},{"s":"30mv/s","x":-0.051,"y":-0.008},{"s":"30mv/s","x":-0.08,"y":-0.0065},{"s":"30mv/s","x":-0.111,"y":-0.0056},{"s":"30mv/s","x":-0.2,"y":-0.0048},
{"s":"40mv/s","x":-0.2,"y":-0.006},{"s":"40mv/s","x":-0.19,"y":-0.003},{"s":"40mv/s","x":-0.17,"y":-0.0011},{"s":"40mv/s","x":-0.12,"y":-0.0002},{"s":"40mv/s","x":-0.05,"y":0.0002},{"s":"40mv/s","x":0.05,"y":0.0007},{"s":"40mv/s","x":0.15,"y":0.0012},{"s":"40mv/s","x":0.22,"y":0.0018},{"s":"40mv/s","x":0.255,"y":0.0025},{"s":"40mv/s","x":0.265,"y":0.0036},{"s":"40mv/s","x":0.277,"y":0.0072},{"s":"40mv/s","x":0.296,"y":0.019},{"s":"40mv/s","x":0.314,"y":0.026},{"s":"40mv/s","x":0.338,"y":0.0297},{"s":"40mv/s","x":0.363,"y":0.0304},{"s":"40mv/s","x":0.39,"y":0.0299},{"s":"40mv/s","x":0.42,"y":0.029},{"s":"40mv/s","x":0.455,"y":0.0284},{"s":"40mv/s","x":0.49,"y":0.031},{"s":"40mv/s","x":0.52,"y":0.0375},{"s":"40mv/s","x":0.545,"y":0.0455},{"s":"40mv/s","x":0.565,"y":0.054},{"s":"40mv/s","x":0.588,"y":0.067},{"s":"40mv/s","x":0.6,"y":0.077},
{"s":"40mv/s","x":0.595,"y":0.073},{"s":"40mv/s","x":0.58,"y":0.0605},{"s":"40mv/s","x":0.56,"y":0.0445},{"s":"40mv/s","x":0.535,"y":0.0295},{"s":"40mv/s","x":0.51,"y":0.0195},{"s":"40mv/s","x":0.48,"y":0.0106},{"s":"40mv/s","x":0.45,"y":0.0053},{"s":"40mv/s","x":0.42,"y":0.0016},{"s":"40mv/s","x":0.385,"y":0},{"s":"40mv/s","x":0.34,"y":-0.003},{"s":"40mv/s","x":0.314,"y":-0.0056},{"s":"40mv/s","x":0.285,"y":-0.009},{"s":"40mv/s","x":0.259,"y":-0.0136},{"s":"40mv/s","x":0.24,"y":-0.018},{"s":"40mv/s","x":0.223,"y":-0.0228},{"s":"40mv/s","x":0.205,"y":-0.0285},{"s":"40mv/s","x":0.192,"y":-0.0316},{"s":"40mv/s","x":0.18,"y":-0.0325},{"s":"40mv/s","x":0.168,"y":-0.0328},{"s":"40mv/s","x":0.15,"y":-0.0322},{"s":"40mv/s","x":0.131,"y":-0.0316},{"s":"40mv/s","x":0.095,"y":-0.0296},{"s":"40mv/s","x":0.058,"y":-0.0256},{"s":"40mv/s","x":0.03,"y":-0.024},{"s":"40mv/s","x":0.009,"y":-0.022},{"s":"40mv/s","x":-0.012,"y":-0.019},{"s":"40mv/s","x":-0.033,"y":-0.016},{"s":"40mv/s","x":-0.055,"y":-0.012},{"s":"40mv/s","x":-0.075,"y":-0.0096},{"s":"40mv/s","x":-0.1,"y":-0.0075},{"s":"40mv/s","x":-0.124,"y":-0.0068},{"s":"40mv/s","x":-0.2,"y":-0.006},
{"s":"50mv/s","x":-0.2,"y":-0.0076},{"s":"50mv/s","x":-0.19,"y":-0.0035},{"s":"50mv/s","x":-0.17,"y":-0.0013},{"s":"50mv/s","x":-0.12,"y":-0.0002},{"s":"50mv/s","x":-0.05,"y":0.0003},{"s":"50mv/s","x":0.05,"y":0.0008},{"s":"50mv/s","x":0.15,"y":0.0014},{"s":"50mv/s","x":0.22,"y":0.0021},{"s":"50mv/s","x":0.255,"y":0.0028},{"s":"50mv/s","x":0.265,"y":0.004},{"s":"50mv/s","x":0.277,"y":0.0082},{"s":"50mv/s","x":0.296,"y":0.0222},{"s":"50mv/s","x":0.314,"y":0.0302},{"s":"50mv/s","x":0.338,"y":0.0344},{"s":"50mv/s","x":0.363,"y":0.0352},{"s":"50mv/s","x":0.39,"y":0.0345},{"s":"50mv/s","x":0.42,"y":0.0333},{"s":"50mv/s","x":0.455,"y":0.0324},{"s":"50mv/s","x":0.49,"y":0.0352},{"s":"50mv/s","x":0.52,"y":0.042},{"s":"50mv/s","x":0.545,"y":0.05},{"s":"50mv/s","x":0.565,"y":0.058},{"s":"50mv/s","x":0.588,"y":0.071},{"s":"50mv/s","x":0.6,"y":0.08},
{"s":"50mv/s","x":0.595,"y":0.0745},{"s":"50mv/s","x":0.58,"y":0.061},{"s":"50mv/s","x":0.56,"y":0.0448},{"s":"50mv/s","x":0.535,"y":0.0298},{"s":"50mv/s","x":0.51,"y":0.0198},{"s":"50mv/s","x":0.48,"y":0.0108},{"s":"50mv/s","x":0.45,"y":0.0054},{"s":"50mv/s","x":0.42,"y":0.0017},{"s":"50mv/s","x":0.385,"y":0},{"s":"50mv/s","x":0.34,"y":-0.0032},{"s":"50mv/s","x":0.314,"y":-0.006},{"s":"50mv/s","x":0.285,"y":-0.0098},{"s":"50mv/s","x":0.259,"y":-0.0148},{"s":"50mv/s","x":0.24,"y":-0.02},{"s":"50mv/s","x":0.223,"y":-0.0256},{"s":"50mv/s","x":0.205,"y":-0.032},{"s":"50mv/s","x":0.192,"y":-0.0356},{"s":"50mv/s","x":0.178,"y":-0.037},{"s":"50mv/s","x":0.165,"y":-0.0372},{"s":"50mv/s","x":0.148,"y":-0.0368},{"s":"50mv/s","x":0.131,"y":-0.036},{"s":"50mv/s","x":0.095,"y":-0.0335},{"s":"50mv/s","x":0.06,"y":-0.03},{"s":"50mv/s","x":0.035,"y":-0.028},{"s":"50mv/s","x":0.01,"y":-0.0262},{"s":"50mv/s","x":-0.015,"y":-0.0248},{"s":"50mv/s","x":-0.035,"y":-0.0218},{"s":"50mv/s","x":-0.051,"y":-0.0188},{"s":"50mv/s","x":-0.07,"y":-0.015},{"s":"50mv/s","x":-0.088,"y":-0.012},{"s":"50mv/s","x":-0.137,"y":-0.0088},{"s":"50mv/s","x":-0.2,"y":-0.0076},
{"s":"60mv/s","x":-0.2,"y":-0.0088},{"s":"60mv/s","x":-0.19,"y":-0.004},{"s":"60mv/s","x":-0.17,"y":-0.0015},{"s":"60mv/s","x":-0.12,"y":-0.0003},{"s":"60mv/s","x":-0.05,"y":0.0003},{"s":"60mv/s","x":0.05,"y":0.0009},{"s":"60mv/s","x":0.15,"y":0.0016},{"s":"60mv/s","x":0.22,"y":0.0024},{"s":"60mv/s","x":0.255,"y":0.0032},{"s":"60mv/s","x":0.265,"y":0.0045},{"s":"60mv/s","x":0.277,"y":0.0092},{"s":"60mv/s","x":0.296,"y":0.0252},{"s":"60mv/s","x":0.314,"y":0.0344},{"s":"60mv/s","x":0.338,"y":0.0392},{"s":"60mv/s","x":0.363,"y":0.04},{"s":"60mv/s","x":0.39,"y":0.0392},{"s":"60mv/s","x":0.42,"y":0.0375},{"s":"60mv/s","x":0.454,"y":0.0364},{"s":"60mv/s","x":0.49,"y":0.0395},{"s":"60mv/s","x":0.52,"y":0.0464},{"s":"60mv/s","x":0.545,"y":0.054},{"s":"60mv/s","x":0.564,"y":0.0612},{"s":"60mv/s","x":0.588,"y":0.0744},{"s":"60mv/s","x":0.6,"y":0.0836},
{"s":"60mv/s","x":0.595,"y":0.076},{"s":"60mv/s","x":0.58,"y":0.0615},{"s":"60mv/s","x":0.56,"y":0.045},{"s":"60mv/s","x":0.535,"y":0.03},{"s":"60mv/s","x":0.51,"y":0.02},{"s":"60mv/s","x":0.48,"y":0.011},{"s":"60mv/s","x":0.45,"y":0.0055},{"s":"60mv/s","x":0.42,"y":0.0018},{"s":"60mv/s","x":0.387,"y":0},{"s":"60mv/s","x":0.34,"y":-0.0035},{"s":"60mv/s","x":0.308,"y":-0.0068},{"s":"60mv/s","x":0.275,"y":-0.0108},{"s":"60mv/s","x":0.246,"y":-0.016},{"s":"60mv/s","x":0.228,"y":-0.0225},{"s":"60mv/s","x":0.21,"y":-0.0296},{"s":"60mv/s","x":0.195,"y":-0.036},{"s":"60mv/s","x":0.181,"y":-0.0396},{"s":"60mv/s","x":0.17,"y":-0.0405},{"s":"60mv/s","x":0.155,"y":-0.0408},{"s":"60mv/s","x":0.126,"y":-0.04},{"s":"60mv/s","x":0.095,"y":-0.0385},{"s":"60mv/s","x":0.064,"y":-0.036},{"s":"60mv/s","x":0.03,"y":-0.0345},{"s":"60mv/s","x":0.004,"y":-0.032},{"s":"60mv/s","x":-0.02,"y":-0.029},{"s":"60mv/s","x":-0.038,"y":-0.0268},{"s":"60mv/s","x":-0.055,"y":-0.0225},{"s":"60mv/s","x":-0.069,"y":-0.0188},{"s":"60mv/s","x":-0.085,"y":-0.0155},{"s":"60mv/s","x":-0.1,"y":-0.0136},{"s":"60mv/s","x":-0.148,"y":-0.01},{"s":"60mv/s","x":-0.2,"y":-0.0088}
]
},
"spacing":39,
"vconcat":[
{
 "width":537,"height":396,
 "layer":[
  {"data":{"name":"a"},
   "mark":{"type":"line","strokeWidth":2.4,"interpolate":"catmull-rom","order":false,"strokeJoin":"round","strokeCap":"round"},
   "encoding":{
    "x":{"field":"x","type":"quantitative","scale":{"domain":[-0.3,0.6944],"nice":false,"zero":false},"axis":{"orient":"bottom","values":[-0.2,0,0.2,0.4,0.6],"tickSize":-8,"labelPadding":15,"labelExpr":"replace(format(datum.value,'.1f'),'\u2212','-')","title":"Potential(V vs SCE)","titlePadding":14}},
    "y":{"field":"y","type":"quantitative","scale":{"domain":[-0.03,0.06],"nice":false,"zero":false},"axis":{"orient":"left","values":[-0.03,0,0.03,0.06],"tickSize":-8,"labelPadding":16,"labelExpr":"replace(format(datum.value,'.2f'),'\u2212','-')","title":"Current(A)","titlePadding":11}},
    "color":{"field":"s","type":"nominal","scale":{"domain":["5mv/s","10mv/s","20mv/s","30mv/s","40mv/s","50mv/s","60mv/s"],"range":["#000000","#ff0000","#0000ff","#0a8a8a","#ff00ff","#8a8a10","#000080"]},"legend":{"orient":"none","legendX":43.5,"legendY":25,"title":null,"rowPadding":4.1}}
   }},
  {"data":{"values":[{}]},
   "mark":{"type":"text","font":"Liberation Serif","fontSize":28,"color":"#222","align":"center","baseline":"alphabetic"},
   "encoding":{
    "x":{"datum":0.664,"type":"quantitative","scale":{"domain":[-0.3,0.6944],"nice":false,"zero":false},"axis":{"orient":"bottom","values":[-0.1,0.1,0.3,0.5],"tickSize":-4,"labels":false,"domain":false,"title":null}},
    "y":{"datum":0.0532,"type":"quantitative","scale":{"domain":[-0.03,0.06],"nice":false,"zero":false},"axis":{"orient":"left","values":[-0.015,0.015,0.045],"tickSize":-4,"labels":false,"domain":false,"title":null}},
    "text":{"value":"a"}
   }},
  {"data":{"values":[{}]},
   "mark":{"type":"text","text":" "},
   "encoding":{
    "x":{"datum":0,"type":"quantitative","scale":{"domain":[-0.3,0.6944],"nice":false,"zero":false},"axis":{"orient":"top","ticks":false,"labels":false,"domain":true,"title":null}}
   }}
 ],
 "resolve":{"axis":{"x":"independent","y":"independent"}}
},
{
 "spacing":24,
 "resolve":{"scale":{"color":"independent"},"legend":{"color":"independent"}},
 "vconcat":[
 {
 "width":537,"height":400,
 "layer":[
  {"data":{"name":"b"},
   "mark":{"type":"line","strokeWidth":2.4,"interpolate":"catmull-rom","order":false,"strokeJoin":"round","strokeCap":"round"},
   "encoding":{
    "x":{"field":"x","type":"quantitative","scale":{"domain":[-0.3,0.6944],"nice":false,"zero":false},"axis":{"orient":"bottom","values":[-0.2,0,0.2,0.4,0.6],"tickSize":-8,"labelPadding":15,"labelExpr":"replace(format(datum.value,'.1f'),'\u2212','-')","title":"Potential(V vs SCE)","titlePadding":14}},
    "y":{"field":"y","type":"quantitative","scale":{"domain":[-0.045,0.075],"nice":false,"zero":false},"axis":{"orient":"left","values":[-0.03,0,0.03,0.06],"tickSize":-8,"labelPadding":16,"labelExpr":"replace(format(datum.value,'.2f'),'\u2212','-')","title":"Current(A)","titlePadding":11}},
    "color":{"field":"s","type":"nominal","scale":{"domain":["5mv/s","10mv/s","20mv/s","30mv/s","40mv/s","50mv/s","60mv/s"],"range":["#000000","#ff0000","#0000ff","#0a8a8a","#ff00ff","#8a8a10","#000080"]},"legend":{"orient":"none","legendX":52.5,"legendY":43.5,"title":null,"rowPadding":4.1}}
   }},
  {"data":{"values":[{}]},
   "mark":{"type":"text","font":"Liberation Serif","fontSize":28,"color":"#222","align":"center","baseline":"alphabetic"},
   "encoding":{
    "x":{"datum":0.67,"type":"quantitative","scale":{"domain":[-0.3,0.6944],"nice":false,"zero":false},"axis":{"orient":"bottom","values":[-0.1,0.1,0.3,0.5],"tickSize":-4,"labels":false,"domain":false,"title":null}},
    "y":{"datum":0.0642,"type":"quantitative","scale":{"domain":[-0.045,0.075],"nice":false,"zero":false},"axis":{"orient":"left","values":[-0.015,0.015,0.045],"tickSize":-4,"labels":false,"domain":false,"title":null}},
    "text":{"value":"b"}
   }},
  {"data":{"values":[{}]},
   "mark":{"type":"text","text":" "},
   "encoding":{
    "x":{"datum":0,"type":"quantitative","scale":{"domain":[-0.3,0.6944],"nice":false,"zero":false},"axis":{"orient":"top","ticks":false,"labels":false,"domain":true,"title":null}}
   }}
 ],
 "resolve":{"axis":{"x":"independent","y":"independent"}}
 },
 {
 "width":537,"height":401,
 "layer":[
  {"data":{"name":"c"},
   "mark":{"type":"line","strokeWidth":2.4,"interpolate":"catmull-rom","order":false,"strokeJoin":"round","strokeCap":"round"},
   "encoding":{
    "x":{"field":"x","type":"quantitative","scale":{"domain":[-0.3,0.6944],"nice":false,"zero":false},"axis":{"orient":"bottom","values":[-0.2,0,0.2,0.4,0.6],"tickSize":-8,"labelPadding":15,"labelExpr":"replace(format(datum.value,'.1f'),'\u2212','-')","title":"Potential(V vs SCE)","titlePadding":14}},
    "y":{"field":"y","type":"quantitative","scale":{"domain":[-0.06,0.1],"nice":false,"zero":false},"axis":{"orient":"left","values":[-0.06,-0.03,0,0.03,0.06,0.09],"tickSize":-8,"labelPadding":16,"labelExpr":"replace(format(datum.value,'.2f'),'\u2212','-')","title":"Current(A)","titlePadding":11}},
    "color":{"field":"s","type":"nominal","scale":{"domain":["5mv/s","10mv/s","20mv/s","30mv/s","40mv/s","50mv/s","60mv/s"],"range":["#000000","#ff0000","#0000ff","#0a8a8a","#ff00ff","#8a8a10","#000080"]},"legend":{"orient":"none","legendX":42.5,"legendY":33,"title":null,"rowPadding":4.7}}
   }},
  {"data":{"values":[{}]},
   "mark":{"type":"text","font":"Liberation Serif","fontSize":28,"color":"#222","align":"center","baseline":"alphabetic"},
   "encoding":{
    "x":{"datum":0.68,"type":"quantitative","scale":{"domain":[-0.3,0.6944],"nice":false,"zero":false},"axis":{"orient":"bottom","values":[-0.1,0.1,0.3,0.5],"tickSize":-4,"labels":false,"domain":false,"title":null}},
    "y":{"datum":0.0876,"type":"quantitative","scale":{"domain":[-0.06,0.1],"nice":false,"zero":false},"axis":{"orient":"left","values":[-0.045,-0.015,0.015,0.045,0.075],"tickSize":-4,"labels":false,"domain":false,"title":null}},
    "text":{"value":"c"}
   }},
  {"data":{"values":[{}]},
   "mark":{"type":"text","text":" "},
   "encoding":{
    "x":{"datum":0,"type":"quantitative","scale":{"domain":[-0.3,0.6944],"nice":false,"zero":false},"axis":{"orient":"top","ticks":false,"labels":false,"domain":true,"title":null}}
   }}
 ],
 "resolve":{"axis":{"x":"independent","y":"independent"}}
 }
 ]
}
]
}
